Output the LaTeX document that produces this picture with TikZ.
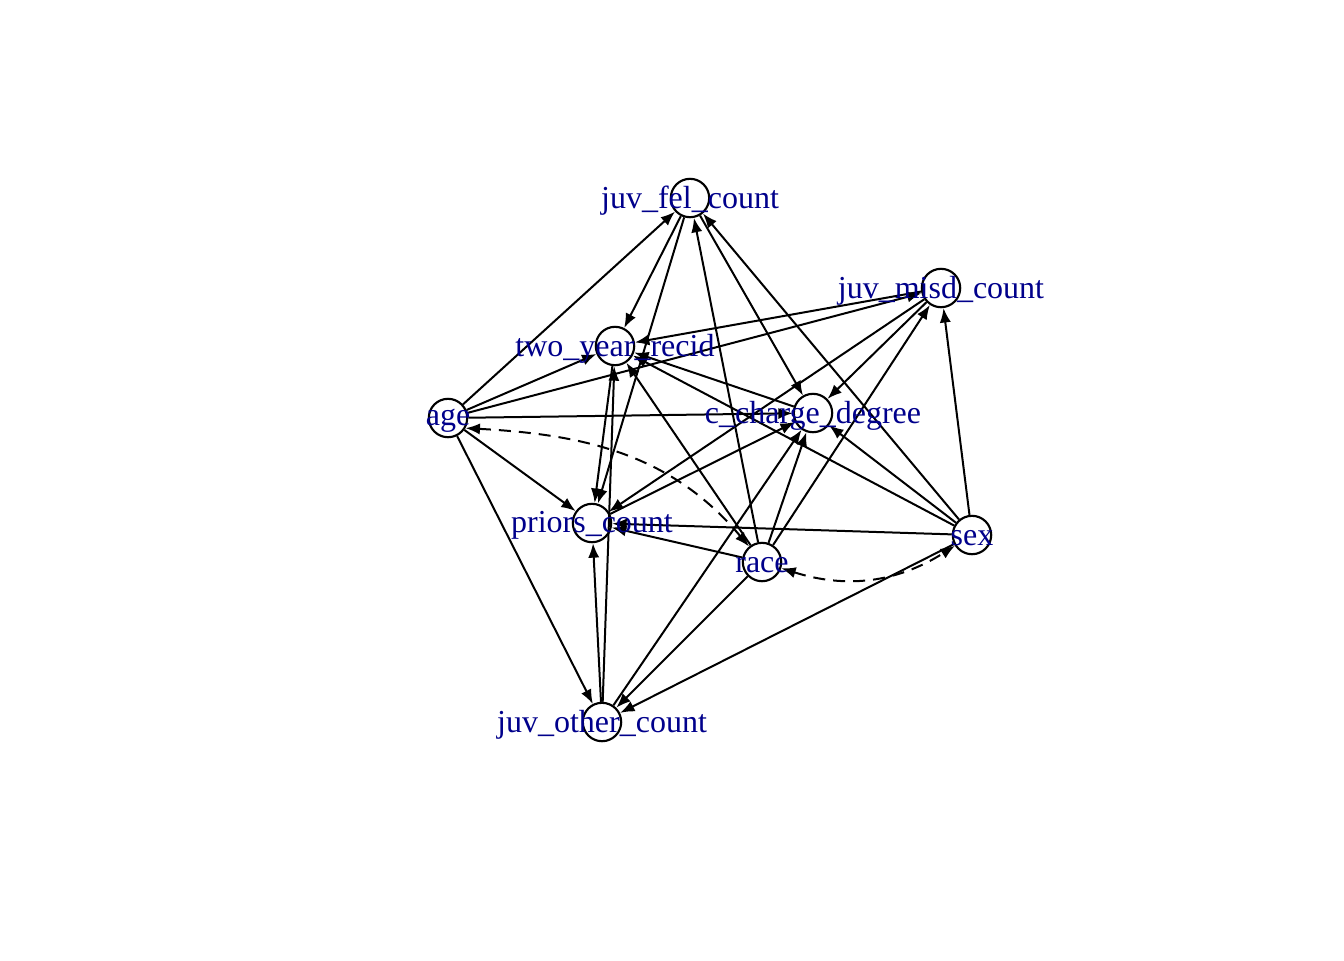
\documentclass[tikz,border=0pt]{standalone}
\usepackage{fontspec}
\setmainfont{Liberation Serif}
\usepackage{tikz}
\usetikzlibrary{arrows.meta}
\definecolor{labblue}{RGB}{0,0,139}
\tikzset{
  vnode/.style = {circle, draw=black, fill=white, line width=0.8pt,
    minimum size=14.4pt, inner sep=0pt},% sommet
  vlab/.style = {inner sep=0pt, text=labblue, yshift=-1pt,
    font=\fontsize{12}{14}\selectfont},% etiquette du sommet
  bidir/.style = {<->, dash pattern=on 4.5pt off 3pt}% arc bidirige, pointille
}

\begin{document}
\begin{tikzpicture}[x=0.375pt,y=-0.375pt,line width=0.75pt,
  >={Latex[length=5.4pt,width=4.2pt]}]
\useasboundingbox (0,0) rectangle (1344,960);
\foreach \n/\x/\y in {fel/690/198, misd/941/288, recid/615/346, age/448/418,
  charge/813/413, priors/592/523, race/762/562, sex/972/535, other/602/722}
  \node [vnode] (\n) at (\x,\y) {};
% arcs orientes
\foreach \a/\b in {age/fel, age/recid, age/misd, age/charge, age/priors,
  age/other, fel/recid, fel/priors, fel/charge, misd/recid, misd/charge,
  misd/priors, charge/recid, priors/charge, recid/priors, other/recid,
  other/priors, other/charge, race/fel, race/misd, race/charge, race/recid,
  race/priors, race/other, sex/fel, sex/misd, sex/charge, sex/recid,
  sex/priors, sex/other}
  \draw [->] (\a) -- (\b);
\draw [bidir] (age.-30) to[out=-3, in=130] (race);
\draw [bidir] (race) to[bend right=25] (sex);
\foreach \n/\t in {fel/juv\_fel\_count, misd/juv\_misd\_count,
  recid/two\_year\_recid, age/age, charge/c\_charge\_degree,
  priors/priors\_count, race/race, sex/sex, other/juv\_other\_count}
  \node [vlab] at (\n) {\t};
\end{tikzpicture}
\end{document}
